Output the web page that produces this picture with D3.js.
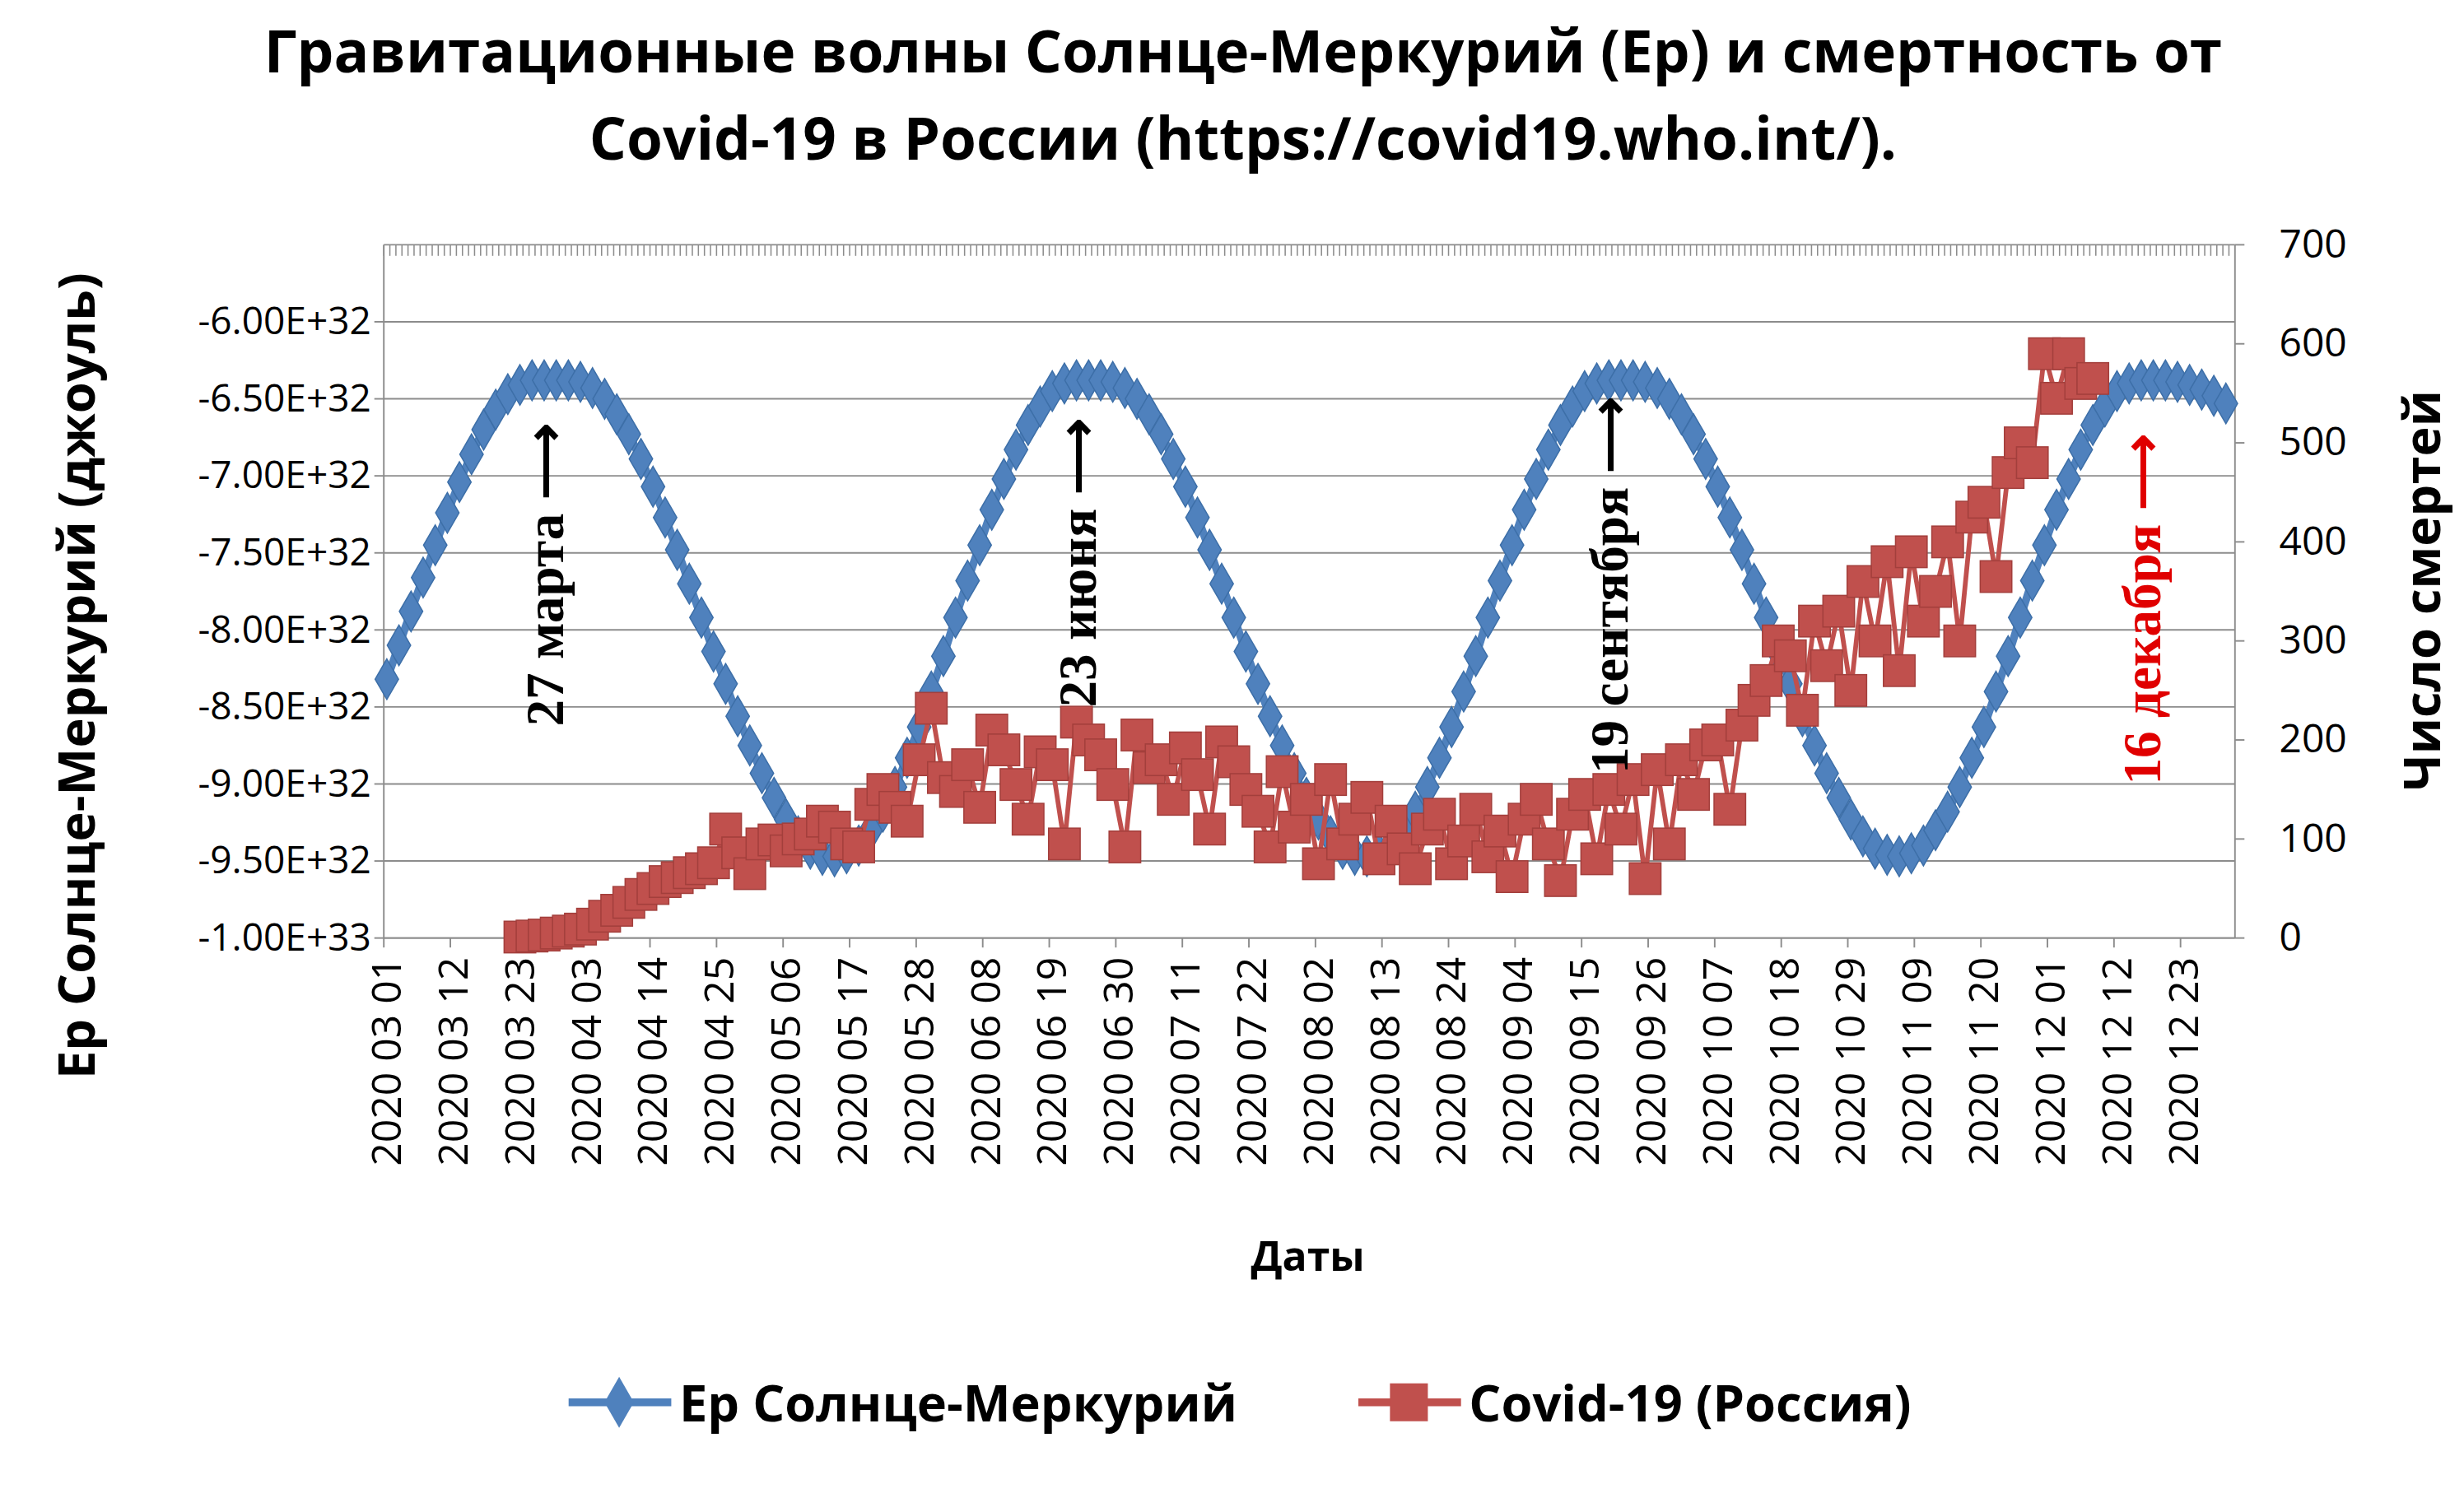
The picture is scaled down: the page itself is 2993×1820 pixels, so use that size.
<!DOCTYPE html>
<html><head><meta charset="utf-8">
<script src="https://cdn.jsdelivr.net/npm/d3@7"></script>
<style>body{margin:0;background:#fff}</style>
</head><body>
<svg id="chart" width="2993" height="1820" viewBox="0 0 1560 948.6"></svg>
<script>
// Ep values (×1E+32 J), one every 2 days from 2020-03-01
var epStart = "2020-03-01";
var epValues = [-8.32,-8.10,-7.88,-7.66,-7.45,-7.24,-7.04,-6.86,-6.70,-6.57,-6.47,-6.41,-6.38,-6.38,-6.38,-6.38,
  -6.39,-6.43,-6.50,-6.60,-6.73,-6.89,-7.07,-7.27,-7.48,-7.70,-7.92,-8.14,-8.35,-8.56,-8.75,-8.93,-9.09,-9.23,-9.34,-9.42,-9.46,-9.47,
  -9.45,-9.40,-9.30,-9.18,-9.02,-8.83,-8.63,-8.40,-8.17,-7.92,-7.68,-7.45,-7.22,-7.02,-6.83,-6.67,-6.55,-6.45,-6.40,-6.38,-6.38,-6.38,
  -6.39,-6.43,-6.50,-6.60,-6.73,-6.89,-7.07,-7.27,-7.48,-7.70,-7.92,-8.14,-8.35,-8.56,-8.75,-8.93,-9.09,-9.23,-9.34,-9.42,-9.46,-9.47,
  -9.45,-9.40,-9.30,-9.18,-9.02,-8.83,-8.63,-8.40,-8.17,-7.92,-7.68,-7.45,-7.22,-7.02,-6.83,-6.67,-6.55,-6.45,-6.40,-6.38,-6.38,-6.38,
  -6.39,-6.43,-6.50,-6.60,-6.73,-6.89,-7.07,-7.27,-7.48,-7.70,-7.92,-8.14,-8.35,-8.56,-8.75,-8.93,-9.09,-9.23,-9.34,-9.42,-9.46,-9.47,
  -9.45,-9.40,-9.30,-9.18,-9.02,-8.83,-8.63,-8.40,-8.17,-7.92,-7.68,-7.45,-7.22,-7.02,-6.83,-6.67,-6.55,-6.45,-6.40,-6.38,-6.38,-6.38,
  -6.39,-6.41,-6.44,-6.48,-6.53];
// Covid-19 deaths in Russia, one every 2 days from 2020-03-23
var covidStart = "2020-03-23";
var covidValues = [1,2,3,5,7,9,14,22,28,36,44,50,57,61,66,
  70,76,110,86,65,95,99,88,100,105,118,112,95,92,135,
  150,132,118,180,232,162,148,175,132,210,190,155,120,188,175,
  95,218,200,185,155,92,205,172,180,140,192,165,110,198,178,
  150,128,92,168,112,140,75,160,95,120,142,80,118,90,70,
  110,125,75,98,130,82,108,62,120,140,95,58,125,145,80,
  150,110,160,60,170,95,180,145,195,200,130,215,240,260,300,
  285,230,320,275,330,250,360,300,380,270,390,320,350,400,300,
  425,440,365,470,500,480,590,545,590,560,565];
var leftTicks = [-10.0,-9.5,-9.0,-8.5,-8.0,-7.5,-7.0,-6.5,-6.0];
var leftLabels = ["-1.00E+33","-9.50E+32","-9.00E+32","-8.50E+32","-8.00E+32","-7.50E+32","-7.00E+32","-6.50E+32","-6.00E+32"];
var rightTicks = [0,100,200,300,400,500,600,700];
var notes = [
  {date:"2020-03-27", text:"27 марта", color:"#000", y0:460},
  {date:"2020-06-23", text:"23 июня", color:"#000", y0:448},
  {date:"2020-09-19", text:"19 сентября", color:"#000", y0:490},
  {date:"2020-12-16", text:"16 декабря", color:"#e00000", y0:497}
];

var parse = d3.timeParse("%Y-%m-%d"), fmt = d3.timeFormat("%Y %m %d");
var days = d3.timeDay.range(parse("2020-03-01"), parse("2021-01-01"));
var dayKeys = days.map(fmt);
var L = 243, R = 1415, T = 155, B = 594;
var svg = d3.select("#chart");
var x = d3.scaleBand().domain(dayKeys).range([L, R]);
var yL = d3.scaleLinear().domain([-10, -5.5]).range([B, T]);
var yR = d3.scaleLinear().domain([0, 700]).range([B, T]);
var cx = function(k){ return x(k) + x.bandwidth()/2; };

var ep = epValues.map(function(v,i){ return {k: fmt(d3.timeDay.offset(parse(epStart), 2*i)), v: v}; });
var cv = covidValues.map(function(v,i){ return {k: fmt(d3.timeDay.offset(parse(covidStart), 2*i)), v: v}; });

// grid
svg.selectAll(".grid").data(leftTicks.concat([-5.5])).enter().append("line")
  .attr("x1", L).attr("x2", R).attr("y1", yL).attr("y2", yL)
  .attr("stroke", "#8c8c8c").attr("stroke-width", 1);
svg.append("line").attr("x1",L).attr("x2",L).attr("y1",T).attr("y2",B).attr("stroke","#8c8c8c");
svg.append("line").attr("x1",R).attr("x2",R).attr("y1",T).attr("y2",B).attr("stroke","#8c8c8c");
// top secondary category ticks
svg.selectAll(".tt").data(dayKeys).enter().append("line")
  .attr("x1", function(k){ return x(k); }).attr("x2", function(k){ return x(k); })
  .attr("y1", T).attr("y2", T+7).attr("stroke","#8c8c8c").attr("stroke-width",0.8);

// left axis
var fs = "'Open Sans', 'Liberation Sans', sans-serif";
leftTicks.forEach(function(t,i){
  svg.append("line").attr("x1",L-6).attr("x2",L).attr("y1",yL(t)).attr("y2",yL(t)).attr("stroke","#8c8c8c");
  svg.append("text").attr("x",L-8).attr("y",yL(t)+8).attr("text-anchor","end")
    .attr("font-family",fs).attr("font-size",24).text(leftLabels[i]);
});
rightTicks.forEach(function(t){
  svg.append("line").attr("x1",R).attr("x2",R+6).attr("y1",yR(t)).attr("y2",yR(t)).attr("stroke","#8c8c8c");
  svg.append("text").attr("x",R+28).attr("y",yR(t)+8).attr("text-anchor","start")
    .attr("font-family",fs).attr("font-size",25).text(t);
});
// bottom axis
svg.append("line").attr("x1",L).attr("x2",R).attr("y1",B).attr("y2",B).attr("stroke","#8c8c8c");
dayKeys.forEach(function(k,i){
  if (i % 11 === 0) {
    svg.append("line").attr("x1",x(k)).attr("x2",x(k)).attr("y1",B).attr("y2",B+6).attr("stroke","#8c8c8c");
    svg.append("text").attr("transform","translate("+(cx(k)+9)+","+(B+12)+") rotate(-90)")
      .attr("text-anchor","end").attr("font-family",fs).attr("font-size",26).text(k);
  }
});

// Ep series
var diamond = d3.symbol().type(d3.symbolDiamond).size(190);
svg.append("path").datum(ep).attr("fill","none").attr("stroke","#4F81BD").attr("stroke-width",5)
  .attr("d", d3.line().x(function(d){return cx(d.k);}).y(function(d){return yL(d.v);}));
svg.selectAll(".ep").data(ep).enter().append("path").attr("d", diamond)
  .attr("transform", function(d){ return "translate("+cx(d.k)+","+yL(d.v)+")"; })
  .attr("fill","#4F81BD").attr("stroke","#3d6fa8").attr("stroke-width",0.8);

// Covid series
svg.append("path").datum(cv).attr("fill","none").attr("stroke","#C0504D").attr("stroke-width",3)
  .attr("d", d3.line().x(function(d){return cx(d.k);}).y(function(d){return yR(d.v);}));
svg.selectAll(".cv").data(cv).enter().append("rect")
  .attr("x", function(d){ return cx(d.k)-10; }).attr("y", function(d){ return yR(d.v)-10; })
  .attr("width",20).attr("height",20).attr("fill","#C0504D").attr("stroke","#a33f3c").attr("stroke-width",0.8);

// annotations
notes.forEach(function(n){
  svg.append("text").attr("transform","translate("+(cx(fmt(parse(n.date)))+12)+","+n.y0+") rotate(-90)")
    .attr("font-family","'Liberation Serif', serif").attr("font-weight","bold").attr("font-size",34)
    .attr("fill", n.color).text(n.text + " ⟶");
});

// titles
svg.append("text").attr("x",787).attr("y",46).attr("text-anchor","middle").attr("font-family",fs)
  .attr("font-weight","bold").attr("font-size",37).text("Гравитационные волны Солнце-Меркурий (Ер) и смертность от");
svg.append("text").attr("x",787).attr("y",101).attr("text-anchor","middle").attr("font-family",fs)
  .attr("font-weight","bold").attr("font-size",37).text("Covid-19 в России (https://covid19.who.int/).");
svg.append("text").attr("transform","translate(60,428) rotate(-90)").attr("text-anchor","middle")
  .attr("font-family",fs).attr("font-weight","bold").attr("font-size",32).text("Ер Солнце-Меркурий (джоуль)");
svg.append("text").attr("transform","translate(1545,374) rotate(-90)").attr("text-anchor","middle")
  .attr("font-family",fs).attr("font-weight","bold").attr("font-size",32).text("Число смертей");
svg.append("text").attr("x",828).attr("y",805).attr("text-anchor","middle")
  .attr("font-family",fs).attr("font-weight","bold").attr("font-size",26).text("Даты");

// legend
var lg = [{x:360, c:"#4F81BD", t:"Ер Солнце-Меркурий", m:"d"},{x:860, c:"#C0504D", t:"Covid-19 (Россия)", m:"s"}];
lg.forEach(function(g){
  svg.append("line").attr("x1",g.x).attr("x2",g.x+65).attr("y1",888).attr("y2",888).attr("stroke",g.c).attr("stroke-width",5);
  if (g.m === "d") svg.append("path").attr("d", d3.symbol().type(d3.symbolDiamond).size(300)).attr("transform","translate("+(g.x+32)+",888)").attr("fill",g.c);
  else svg.append("rect").attr("x",g.x+20).attr("y",876).attr("width",24).attr("height",24).attr("fill",g.c);
  svg.append("text").attr("x",g.x+70).attr("y",900).attr("font-family",fs).attr("font-weight","bold")
    .attr("font-size",32).text(g.t);
});
</script>
</body></html>
